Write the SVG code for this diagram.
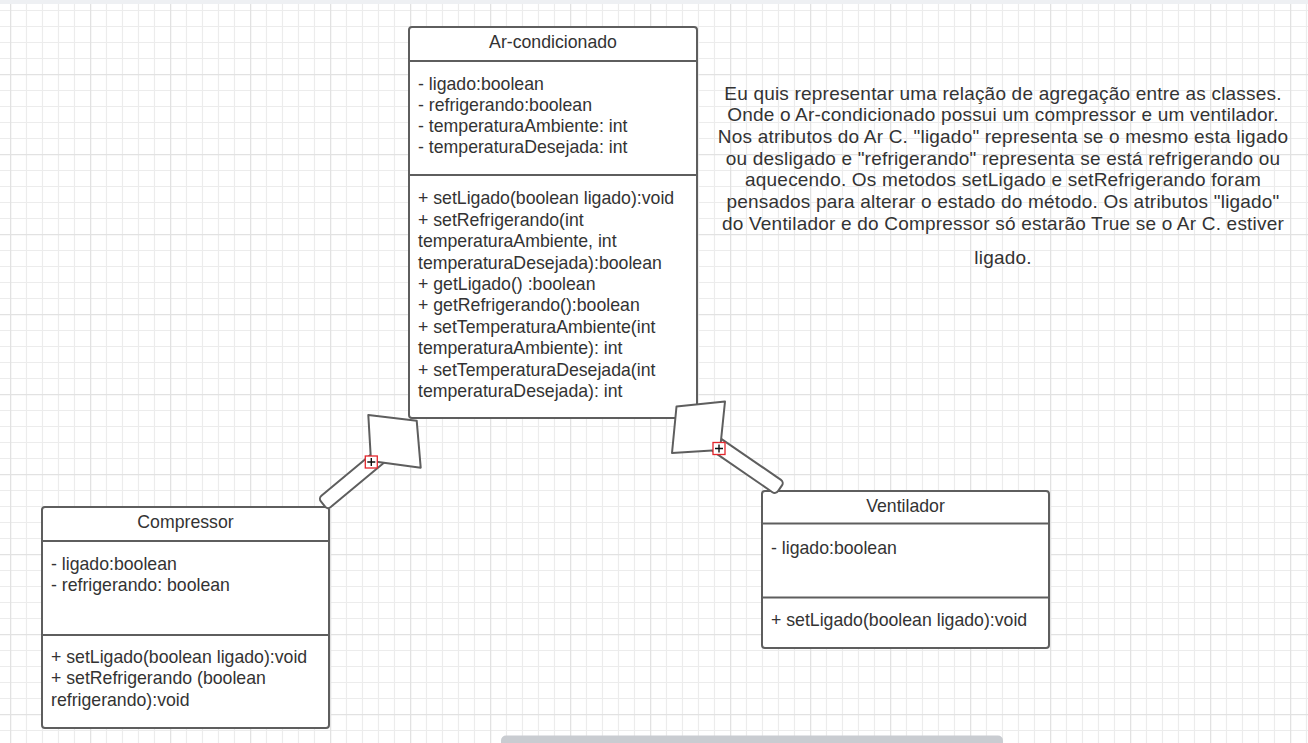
<svg xmlns="http://www.w3.org/2000/svg" width="1308" height="743" viewBox="0 0 1308 743">
<style>
.box{fill:#ffffff;stroke:#5e5e5e;stroke-width:2}
.sep{stroke:#5e5e5e;stroke-width:2}
.t{font-family:"Liberation Sans",Arial,Helvetica,sans-serif;font-size:17.7px;fill:#333333}
.n{font-family:"Liberation Sans",Arial,Helvetica,sans-serif;font-size:19px;letter-spacing:0.2px;fill:#333333;text-anchor:middle}
.c{text-anchor:middle}
.pipe{fill:#ffffff;stroke:#5e5e5e;stroke-width:2}
.dia{fill:#ffffff;stroke:#5e5e5e;stroke-width:2;stroke-linejoin:round}
.mk{fill:#ffffff;stroke:#e3262c;stroke-width:1.3}
.pl{stroke:#111111;stroke-width:1.4}
</style>
<defs>
<pattern id="grid" x="10" y="74" width="80" height="80" patternUnits="userSpaceOnUse">
<path d="M16.5 0V80M32.5 0V80M48.5 0V80M64.5 0V80M0 16.5H80M0 32.5H80M0 48.5H80M0 64.5H80" stroke="#ececec" stroke-width="1.2" fill="none"/>
<path d="M0.5 0V80M0 0.5H80" stroke="#e2e2e2" stroke-width="1.6" fill="none"/>
</pattern>
</defs>
<rect x="0" y="0" width="1308" height="743" fill="#ffffff"/>
<rect x="0" y="0" width="1308" height="743" fill="url(#grid)"/>
<rect x="0" y="0" width="1308" height="4" fill="#eef0f3"/>

<g id="ar-condicionado">
<rect class="box" x="409" y="27" width="288" height="391" rx="3"/>
<line class="sep" x1="409" y1="61" x2="697" y2="61"/>
<line class="sep" x1="409" y1="175" x2="697" y2="175"/>
<text class="t c" x="553" y="48">Ar-condicionado</text>
<text class="t" x="418" y="90">- ligado:boolean</text>
<text class="t" x="418" y="111">- refrigerando:boolean</text>
<text class="t" x="418" y="132">- temperaturaAmbiente: int</text>
<text class="t" x="418" y="153">- temperaturaDesejada: int</text>
<text class="t" x="418" y="204.3">+ setLigado(boolean ligado):void</text>
<text class="t" x="418" y="225.7">+ setRefrigerando(int</text>
<text class="t" x="418" y="247.1">temperaturaAmbiente, int</text>
<text class="t" x="418" y="268.5">temperaturaDesejada):boolean</text>
<text class="t" x="418" y="289.9">+ getLigado() :boolean</text>
<text class="t" x="418" y="311.3">+ getRefrigerando():boolean</text>
<text class="t" x="418" y="332.7">+ setTemperaturaAmbiente(int</text>
<text class="t" x="418" y="354.1">temperaturaAmbiente): int</text>
<text class="t" x="418" y="375.5">+ setTemperaturaDesejada(int</text>
<text class="t" x="418" y="396.9">temperaturaDesejada): int</text>
</g>

<g id="compressor">
<rect class="box" x="42" y="507" width="287" height="221" rx="3"/>
<line class="sep" x1="42" y1="541" x2="329" y2="541"/>
<line class="sep" x1="42" y1="635" x2="329" y2="635"/>
<text class="t c" x="185.5" y="528">Compressor</text>
<text class="t" x="51" y="570">- ligado:boolean</text>
<text class="t" x="51" y="591">- refrigerando: boolean</text>
<text class="t" x="51" y="663">+ setLigado(boolean ligado):void</text>
<text class="t" x="51" y="684">+ setRefrigerando (boolean</text>
<text class="t" x="51" y="705.5">refrigerando):void</text>
</g>

<g id="ventilador">
<rect class="box" x="762" y="491" width="287" height="157" rx="3"/>
<line class="sep" x1="762" y1="523.5" x2="1049" y2="523.5"/>
<line class="sep" x1="762" y1="597.5" x2="1049" y2="597.5"/>
<text class="t c" x="905.5" y="512">Ventilador</text>
<text class="t" x="771" y="554">- ligado:boolean</text>
<text class="t" x="771" y="626">+ setLigado(boolean ligado):void</text>
</g>

<g id="nota">
<text class="n" x="1003" y="99.5">Eu quis representar uma relação de agregação entre as classes.</text>
<text class="n" x="1003" y="121.2">Onde o Ar-condicionado possui um compressor e um ventilador.</text>
<text class="n" x="1003" y="142.9">Nos atributos do Ar C. "ligado" representa se o mesmo esta ligado</text>
<text class="n" x="1003" y="164.6">ou desligado e "refrigerando" representa se está refrigerando ou</text>
<text class="n" x="1003" y="186.3">aquecendo. Os metodos setLigado e setRefrigerando foram</text>
<text class="n" x="1003" y="208">pensados para alterar o estado do método. Os atributos "ligado"</text>
<text class="n" x="1003" y="229.7">do Ventilador e do Compressor só estarão True se o Ar C. estiver</text>
<text class="n" x="1003" y="264">ligado.</text>
</g>

<g id="connectors">
<rect class="pipe" x="0" y="-7.3" width="80" height="14.6" rx="4" transform="translate(323,504) rotate(-39.8)"/>
<polygon class="dia" points="368.3,415 416.7,420.7 420.7,467.7 371,461"/>
<rect class="pipe" x="0" y="-7.5" width="80" height="15" rx="4" transform="translate(780,488.3) rotate(214.5)"/>
<polygon class="dia" points="676.5,406.5 725,401.5 720,450 672,453"/>
<rect class="mk" x="365.3" y="456" width="12" height="12"/>
<path class="pl" d="M367.3 462H375.3M371.3 458V466"/>
<rect class="mk" x="713" y="442.5" width="12" height="12"/>
<path class="pl" d="M715 448.5H723M719 444.5V452.5"/>
</g>

<rect x="501" y="735.5" width="502" height="14" rx="5" fill="#c9ccd1"/>
</svg>
